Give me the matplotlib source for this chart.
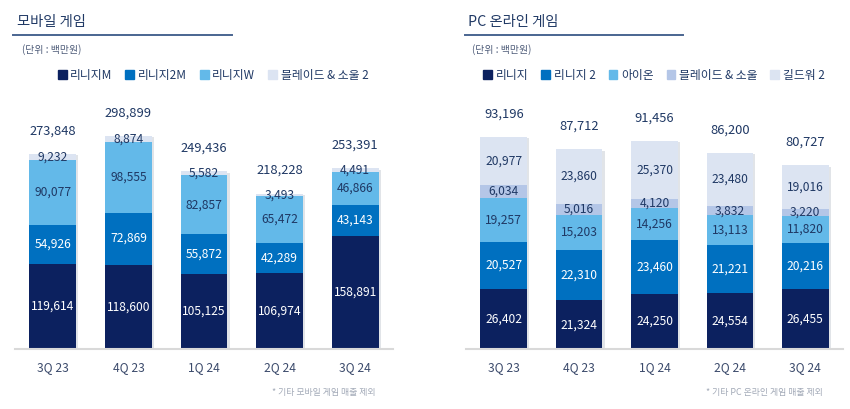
import matplotlib
matplotlib.use("Agg")
import matplotlib.pyplot as plt
import matplotlib.patches as mpatches
import matplotlib.transforms as mtransforms
import numpy as np

plt.rcParams["font.family"] = ["Noto Sans CJK KR", "DejaVu Sans"]

quarters = ["3Q 23", "4Q 23", "1Q 24", "2Q 24", "3Q 24"]

# 모바일 게임 (단위: 백만원)
mobile_names = ["리니지M", "리니지2M", "리니지W", "블레이드 & 소울 2"]
mobile_lineage_m = [119614, 118600, 105125, 106974, 158891]
mobile_lineage_2m = [54926, 72869, 55872, 42289, 43143]
mobile_lineage_w = [90077, 98555, 82857, 65472, 46866]
mobile_bns2 = [9232, 8874, 5582, 3493, 4491]
mobile_total = [273848, 298899, 249436, 218228, 253391]

# PC 온라인 게임 (단위: 백만원)
pc_names = ["리니지", "리니지 2", "아이온", "블레이드 & 소울", "길드워 2"]
pc_lineage = [26402, 21324, 24250, 24554, 26455]
pc_lineage2 = [20527, 22310, 23460, 21221, 20216]
pc_aion = [19257, 15203, 14256, 13113, 11820]
pc_bns = [6034, 5016, 4120, 3832, 3220]
pc_gw2 = [20977, 23860, 25370, 23480, 19016]
pc_total = [93196, 87712, 91456, 86200, 80727]

_C = {
    "navy":  "#0c215f",
    "blue":  "#0070c0",
    "sky":   "#63b9e9",
    "pale":  "#dce4f2",
    "lilac": "#b4c6e7",
    "text":  "#1f3864",
    "tick":  "#3b4a6b",
    "note":  "#a3aab8",
    "rule":  "#4a6590",
    "base":  "#d9d9d9",
}

W, H = 850, 409
fig = plt.figure(figsize=(W / 100, H / 100), dpi=100)


def _px(x0, y0, x1, y1):
    # pixel box (top-left origin) -> figure fraction rect
    return [x0 / W, 1 - y1 / H, (x1 - x0) / W, (y1 - y0) / H]


def _panel(rect, series, colors, names, totals, ymax, title, title_x,
           rule, unit_x, legend_cx, note, note_x):
    ax = fig.add_axes(_px(*rect))
    x = np.arange(len(quarters))
    width = 0.62

    # soft shadow behind each column
    sh = mtransforms.offset_copy(ax.transData, fig=fig, x=1.5, y=-1.0, units="points")
    ax.bar(x, totals, width, color="#c9ced6", alpha=0.55, transform=sh, zorder=1)

    bottom = np.zeros(len(quarters))
    for vals, col in zip(series, colors):
        vals = np.array(vals, dtype=float)
        ax.bar(x, vals, width, bottom=bottom, color=col, zorder=2, linewidth=0)
        txt_col = "white" if col in (_C["navy"], _C["blue"]) else _C["text"]
        for xi, b, v in zip(x, bottom, vals):
            ax.text(xi, b + v / 2, f"{int(v):,}", ha="center", va="center",
                    fontsize=8.7, color=txt_col, zorder=3)
        bottom += vals

    for xi, top, tot in zip(x, bottom, totals):
        ax.annotate(f"{tot:,}", (xi, top), xytext=(0, 16.5), textcoords="offset points",
                    ha="center", va="center", fontsize=9.3, color=_C["text"])

    ax.set_xlim(-0.5, len(quarters) - 0.5)
    ax.set_ylim(0, ymax)
    ax.set_xticks(x, quarters)
    ax.tick_params(axis="x", length=0, pad=9, labelsize=8.7, labelcolor=_C["tick"])
    ax.set_yticks([])
    for side in ("top", "right", "left"):
        ax.spines[side].set_visible(False)
    ax.spines["bottom"].set_color(_C["base"])
    ax.spines["bottom"].set_linewidth(1.5)
    ax.set_facecolor("none")

    # header block
    fig.text(title_x / W, 1 - 22 / H, title, fontsize=10.3, color=_C["text"],
             ha="left", va="center", fontweight="medium")
    fig.add_artist(plt.Line2D([rule[0] / W, rule[1] / W], [1 - 35 / H, 1 - 35 / H],
                              color=_C["rule"], linewidth=1.4))
    fig.text(unit_x / W, 1 - 50 / H, "(단위 : 백만원)", fontsize=7.1,
             color="#4d5b78", ha="left", va="center")

    handles = [mpatches.Patch(color=c, label=n) for c, n in zip(colors, names)]
    fig.legend(handles=handles, loc="center", bbox_to_anchor=(legend_cx / W, 1 - 75 / H),
               ncol=len(names), frameon=False, fontsize=8.5, handlelength=0.75,
               handleheight=0.75, handletextpad=0.3, columnspacing=1.1,
               labelcolor=_C["text"])

    fig.text(note_x / W, 1 - 392 / H, note, fontsize=6.4, color=_C["note"],
             ha="right", va="center")
    return ax


_panel((15, 100, 393, 349),
       [mobile_lineage_m, mobile_lineage_2m, mobile_lineage_w, mobile_bns2],
       [_C["navy"], _C["blue"], _C["sky"], _C["pale"]],
       mobile_names, mobile_total, 349500,
       "모바일 게임", 17, (13, 232), 22, 213, "* 기타 모바일 게임 매출 제외", 376)

_panel((466, 100, 843, 349),
       [pc_lineage, pc_lineage2, pc_aion, pc_bns, pc_gw2],
       [_C["navy"], _C["blue"], _C["sky"], _C["lilac"], _C["pale"]],
       pc_names, pc_total, 109460,
       "PC 온라인 게임", 468, (465, 683), 472, 654, "* 기타 PC 온라인 게임 매출 제외", 823)

fig.savefig("out.png", dpi=100)
